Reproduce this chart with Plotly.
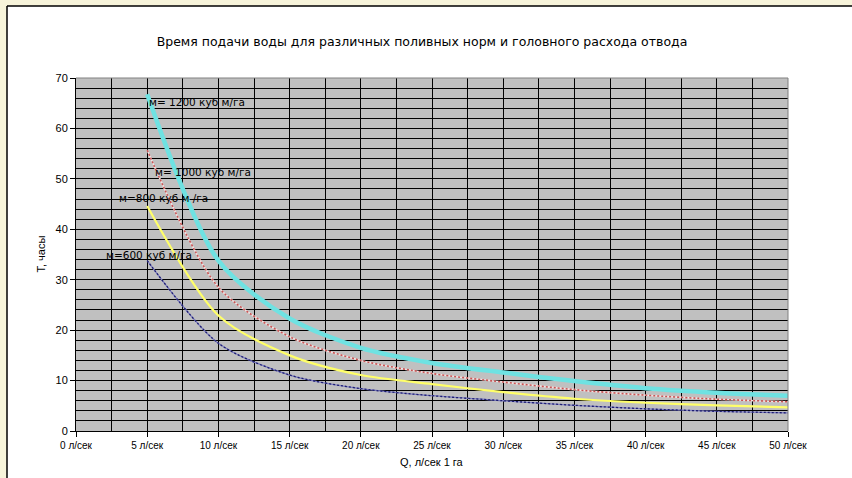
import plotly.graph_objects as go

# ---- data ----
q = [5, 10, 15, 20, 25, 30, 35, 40, 45, 50]
t_1200 = [66.8, 33.8, 22.3, 16.5, 13.5, 11.6, 9.9, 8.5, 7.6, 7.0]
t_1000 = [55.7, 28.5, 18.7, 14.0, 11.4, 9.7, 8.2, 7.1, 6.3, 5.8]
t_800 = [44.6, 22.9, 15.0, 11.1, 9.3, 7.7, 6.4, 5.6, 5.1, 4.7]
t_600 = [33.8, 17.4, 11.1, 8.4, 7.0, 6.0, 5.1, 4.4, 3.9, 3.6]

x_tick_vals = [0, 5, 10, 15, 20, 25, 30, 35, 40, 45, 50]
x_tick_text = [f"{v} л/сек" for v in x_tick_vals]
y_tick_vals = [0, 10, 20, 30, 40, 50, 60, 70]

labels = ["м= 1200 куб м/га", "м= 1000 куб м/га", "м=800 куб м /га", "м=600 куб м/га"]
label_x = [5.0, 5.4, 2.9, 2.0]
label_y = [65.3, 51.4, 46.2, 34.9]

title = "Время подачи воды для различных поливных норм и головного расхода отвода"
x_title = "Q, л/сек 1 га"
y_title = "T, часы"

# ---- figure ----
W, H = 852, 478
L, R, T, B = 76, 64, 78, 47
pw, ph = W - L - R, H - T - B


def px_x(p):
    return (p - L) / pw


def px_y(p):
    return (H - B - p) / ph


SM = 0.8
fig = go.Figure()

fig.add_trace(go.Scatter(x=q, y=t_1200, mode="lines",
                         line=dict(color="#6FE2E2", width=4.5, shape="spline", smoothing=SM), hoverinfo="skip"))
fig.add_trace(go.Scatter(x=q, y=t_1000, mode="lines",
                         line=dict(color="#F2E2E2", width=1.6, shape="spline", smoothing=SM), hoverinfo="skip"))
fig.add_trace(go.Scatter(x=q, y=t_1000, mode="lines",
                         line=dict(color="#C85555", width=1.6, dash="2px,2px", shape="spline", smoothing=SM),
                         hoverinfo="skip"))
fig.add_trace(go.Scatter(x=q, y=t_800, mode="lines",
                         line=dict(color="#FFFF6A", width=2.2, shape="spline", smoothing=SM), hoverinfo="skip"))
fig.add_trace(go.Scatter(x=q, y=t_600, mode="lines",
                         line=dict(color="#7C7CC0", width=1.3, shape="spline", smoothing=SM), hoverinfo="skip"))
fig.add_trace(go.Scatter(x=q, y=t_600, mode="lines",
                         line=dict(color="#1E1E70", width=1.3, dash="2px,2px", shape="spline", smoothing=SM),
                         hoverinfo="skip"))

font_main = "Liberation Sans, Arial, sans-serif"

annotations = []
for txt, ax, ay in zip(labels, label_x, label_y):
    annotations.append(dict(x=ax, y=ay, xref="x", yref="y", text=txt, showarrow=False,
                            xanchor="left", yanchor="middle",
                            font=dict(family="DejaVu Sans, sans-serif", size=10.5, color="black")))
annotations.append(dict(x=0.5, y=px_y(462), xref="paper", yref="paper", text=x_title, showarrow=False,
                        xanchor="center", yanchor="middle", font=dict(family=font_main, size=11, color="black")))
annotations.append(dict(x=px_x(40), y=0.5, xref="paper", yref="paper", text=y_title, showarrow=False,
                        textangle=-90, xanchor="center", yanchor="middle",
                        font=dict(family=font_main, size=11, color="black")))

cream = "#F7F4DA"
shapes = [
    dict(type="rect", xref="paper", yref="paper", x0=px_x(-2), x1=px_x(W + 2), y0=px_y(6), y1=px_y(-2),
         fillcolor=cream, line=dict(width=0), layer="below"),
    dict(type="rect", xref="paper", yref="paper", x0=px_x(-2), x1=px_x(7), y0=px_y(H + 2), y1=px_y(-2),
         fillcolor=cream, line=dict(width=0), layer="below"),
    dict(type="line", xref="paper", yref="paper", x0=px_x(7), x1=px_x(W + 2), y0=px_y(6), y1=px_y(6),
         line=dict(color="black", width=1.5)),
    dict(type="line", xref="paper", yref="paper", x0=px_x(7), x1=px_x(7), y0=px_y(6), y1=px_y(H + 2),
         line=dict(color="black", width=1.5)),
    dict(type="line", xref="paper", yref="paper", x0=0, x1=1, y0=1, y1=1, line=dict(color="#808080", width=1)),
    dict(type="line", xref="paper", yref="paper", x0=1, x1=1, y0=0, y1=1, line=dict(color="#808080", width=1)),
]

fig.update_layout(
    width=W, height=H,
    margin=dict(l=L, r=R, t=T, b=B),
    paper_bgcolor="white",
    plot_bgcolor="#C0C0C0",
    showlegend=False,
    title=dict(text=title, x=422 / W, xanchor="center", y=1 - 42 / H, yanchor="middle",
               xref="container", yref="container",
               font=dict(family="DejaVu Sans, sans-serif", size=12.5, color="black")),
    annotations=annotations,
    shapes=shapes,
)

GW = 1.4
fig.update_xaxes(range=[0, 50], tickvals=x_tick_vals, ticktext=x_tick_text,
                 showgrid=True, gridcolor="black", gridwidth=GW,
                 minor=dict(dtick=2.5, tick0=0, showgrid=True, gridcolor="black", gridwidth=GW),
                 ticks="outside", ticklen=5, tickcolor="black", tickwidth=1,
                 showline=True, linecolor="black", linewidth=1,
                 zeroline=False, fixedrange=True,
                 tickfont=dict(family=font_main, size=10, color="black"))
fig.update_yaxes(range=[0, 70], tickvals=y_tick_vals,
                 showgrid=True, gridcolor="black", gridwidth=GW,
                 minor=dict(dtick=2, tick0=0, showgrid=True, gridcolor="black", gridwidth=GW),
                 ticks="outside", ticklen=5, tickcolor="black", tickwidth=1,
                 showline=True, linecolor="black", linewidth=1,
                 zeroline=False, fixedrange=True,
                 tickfont=dict(family=font_main, size=11, color="black"))

fig.write_html("out.html", config={"displayModeBar": False},
               post_script="document.body.style.margin='0';")
